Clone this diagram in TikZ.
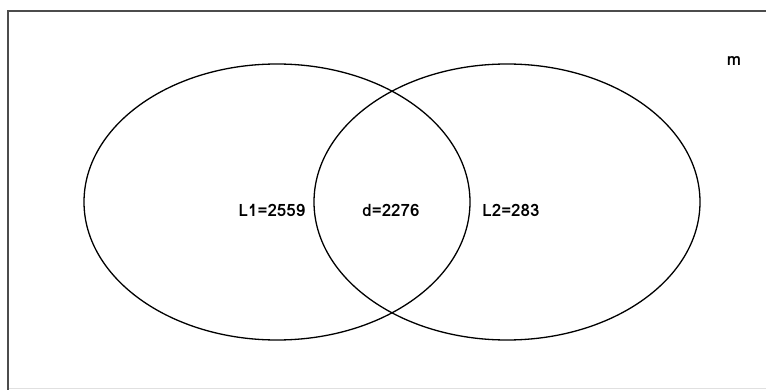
\documentclass[tikz,border=0pt]{standalone}
\usepackage{fontspec}
\newfontfamily\lomafont{Loma}
\usetikzlibrary{shapes.geometric, positioning}
\tikzstyle{set} = [ellipse, draw, line width=1.3pt, minimum width=386pt, minimum height=276pt, inner sep=0pt]
\tikzstyle{count} = [font=\lomafont\fontsize{17}{20}\selectfont\bfseries, inner sep=1pt]
\tikzstyle{frame} = [draw=black!70, line width=2pt]

\begin{document}
\begin{tikzpicture}[x=1pt, y=-1pt]
    \useasboundingbox (0,0) rectangle (766,390);

    % Frame
    \draw [frame] (8,390) -- (8,11) -- (766,11);
    \draw [black!12, line width=1pt] (9,388.5) -- (766,388.5);

    % Sets
    \node (setL1) [set] at (277,202) {};
    \node (setL2) [set] at (507,202) {};

    % Counts
    \node (L1) [count] at (272,210) {L1=2559};
    \node (d) [count] at (391,210) {d=2276};
    \node (L2) [count] at (511,210) {L2=283};
    \node (m) [count] at (734,61) {m};

\end{tikzpicture}
\end{document}
